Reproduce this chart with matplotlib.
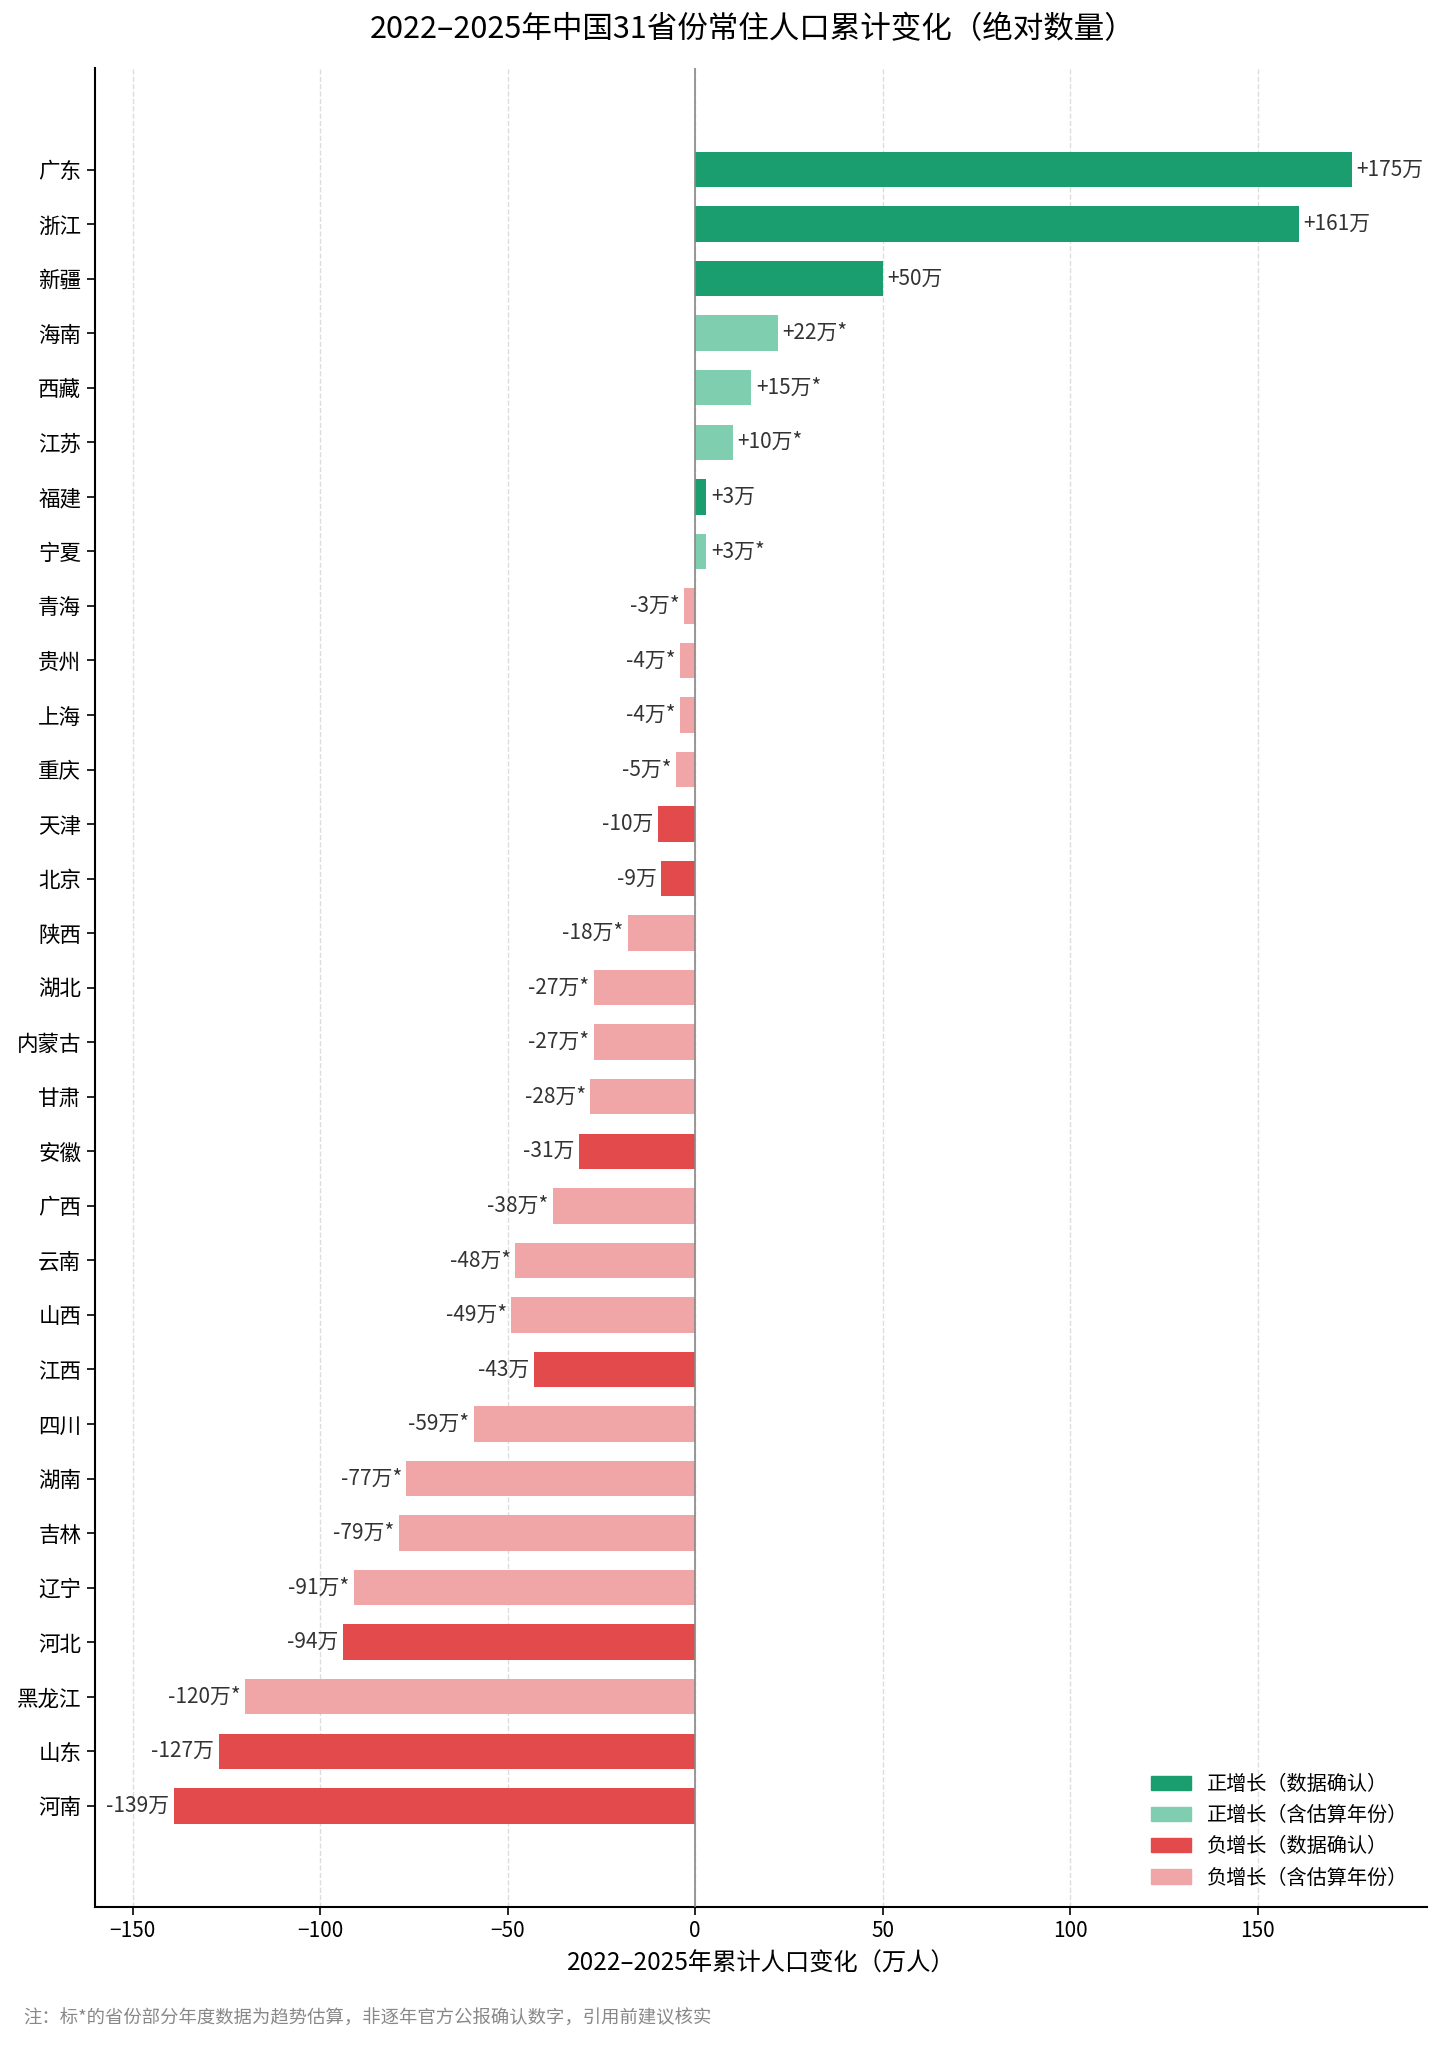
import numpy as np
import matplotlib.pyplot as plt
from matplotlib.patches import Patch

plt.rcParams['font.family'] = ['Noto Sans CJK SC', 'DejaVu Sans']
plt.rcParams['axes.unicode_minus'] = True

provinces = ['广东', '浙江', '新疆', '海南', '西藏', '江苏', '福建', '宁夏', '青海', '贵州',
             '上海', '重庆', '天津', '北京', '陕西', '湖北', '内蒙古', '甘肃', '安徽', '广西',
             '云南', '山西', '江西', '四川', '湖南', '吉林', '辽宁', '河北', '黑龙江', '山东', '河南']
change = [175, 161, 50, 22, 15, 10, 3, 3, -3, -4,
          -4, -5, -10, -9, -18, -27, -27, -28, -31, -38,
          -48, -49, -43, -59, -77, -79, -91, -94, -120, -127, -139]
# True = 含估算年份
estimated = [False, False, False, True, True, True, False, True, True, True,
             True, True, False, False, True, True, True, True, False, True,
             True, True, False, True, True, True, True, False, True, False, False]

c_pos, c_pos_est = '#1b9e6f', '#80ceb0'
c_neg, c_neg_est = '#e34a4b', '#f0a5a6'

colors = []
for v, e in zip(change, estimated):
    if v >= 0:
        colors.append(c_pos_est if e else c_pos)
    else:
        colors.append(c_neg_est if e else c_neg)

fig = plt.figure(figsize=(14.41, 20.48), dpi=100)
ax = fig.add_axes([0.066, 0.069, 0.924, 0.898])

y = np.arange(len(provinces))
ax.barh(y, change, height=0.65, color=colors, zorder=3)
ax.axvline(0, color='#888888', linewidth=1.2, zorder=4)

for yi, v, e in zip(y, change, estimated):
    txt = f"{v:+d}万" + ("*" if e else "")
    if v >= 0:
        ax.text(v + 1.2, yi, txt, va='center', ha='left', fontsize=15, color='#333333')
    else:
        ax.text(v - 1.2, yi, txt, va='center', ha='right', fontsize=15, color='#333333')

ax.set_yticks(y)
ax.set_yticklabels(provinces, fontsize=15.5)
ax.set_ylim(len(provinces) - 1 + 1.85, -1.87)
ax.set_xlim(-160, 195)
ax.set_xticks([-150, -100, -50, 0, 50, 100, 150])
ax.tick_params(axis='x', labelsize=15, length=6, width=1.2)
ax.tick_params(axis='y', length=6, width=1.2, pad=4)
ax.grid(axis='x', linestyle='--', color='#dddddd', linewidth=1.0, zorder=0)
for s in ['top', 'right']:
    ax.spines[s].set_visible(False)
for s in ['left', 'bottom']:
    ax.spines[s].set_linewidth(1.5)

ax.set_xlabel('2022–2025年累计人口变化（万人）', fontsize=17.5, labelpad=6)
fig.suptitle('2022–2025年中国31省份常住人口累计变化（绝对数量）', fontsize=22,
             x=0.522, y=0.993)

handles = [Patch(color=c_pos, label='正增长（数据确认）'),
           Patch(color=c_pos_est, label='正增长（含估算年份）'),
           Patch(color=c_neg, label='负增长（数据确认）'),
           Patch(color=c_neg_est, label='负增长（含估算年份）')]
ax.legend(handles=handles, loc='lower right', fontsize=14.5, frameon=False,
          handlelength=2.0, bbox_to_anchor=(1.0, 0.0))

fig.text(0.016, 0.012, '注：标*的省份部分年度数据为趋势估算，非逐年官方公报确认数字，引用前建议核实',
         fontsize=13.2, color='#888888')

fig.savefig('out.png', dpi=100)
